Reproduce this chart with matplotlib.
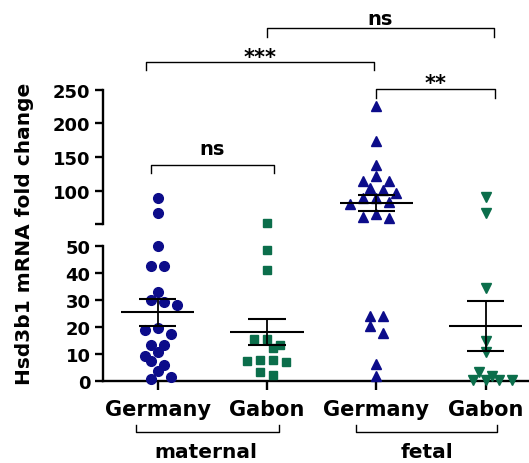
import numpy as np
import matplotlib.pyplot as plt
from matplotlib.transforms import blended_transform_factory

plt.rcParams['font.family'] = 'DejaVu Sans'
plt.rcParams['font.weight'] = 'bold'

# fold change per sample, one list per group
mat_germany = [89, 67, 49.8, 42.6, 42.6, 32.7, 30.0, 29.0, 28.0, 19.4, 18.9, 17.4,
               13.2, 13.2, 10.5, 9.3, 7.4, 5.8, 3.6, 1.2, 0.6]
mat_gabon = [52, 48.5, 41.1, 15.4, 15.4, 13.2, 12.0, 7.8, 7.8, 7.4, 7.0, 3.1, 2.1]
fet_germany = [225.4, 174.5, 137.4, 121.7, 115.0, 113.7, 104.4, 101.4, 97.0, 89.0, 89.0,
               83.2, 80.7, 64.8, 60.9, 60.0, 24.1, 23.9, 20.1, 17.6, 6.2, 1.9]
fet_gabon = [90.6, 66.9, 34.2, 14.8, 10.5, 3.1, 1.6, 0.4, 0.4, 0.4, 0.4]

groups = [mat_germany, mat_gabon, fet_germany, fet_gabon]
tick_names = ['Germany', 'Gabon', 'Germany', 'Gabon']
tissue_names = ['maternal', 'fetal']

blue = '#0c0c8a'
green = '#0b6e4b'
colors = [blue, green, blue, green]
markers = ['o', 's', '^', 'v']
msizes = [7.0, 6.2, 7.4, 7.4]

brk = 50  # axis break value

W, H = 529, 464
fig = plt.figure(figsize=(W / 100, H / 100), dpi=100)

def px_box(x0, y_top, x1, y_bot):
    return [x0 / W, 1 - y_bot / H, (x1 - x0) / W, (y_bot - y_top) / H]

ax_lo = fig.add_axes(px_box(103, 246.7, 528.5, 381.7))
ax_hi = fig.add_axes(px_box(103, 90.7, 528.5, 225.3))

xmax = 0.5 + (528.5 - 103) / 109.3
for ax in (ax_lo, ax_hi):
    ax.set_xlim(0.5, xmax)
    ax.patch.set_visible(False)
    for s in ['top', 'right']:
        ax.spines[s].set_visible(False)
    ax.spines['left'].set_linewidth(1.7)
    ax.tick_params(axis='y', length=6, width=1.7, pad=3, labelsize=13)

ax_lo.set_ylim(0, 50)
ax_lo.set_yticks([0, 10, 20, 30, 40, 50])
ax_lo.spines['bottom'].set_linewidth(1.7)
ax_lo.set_xticks([1, 2, 3, 4])
ax_lo.set_xticklabels(tick_names)
ax_lo.tick_params(axis='x', length=6.5, width=1.7, pad=7, labelsize=15)

ax_hi.set_ylim(brk, 250)
ax_hi.set_yticks([50, 100, 150, 200, 250])
ax_hi.set_yticklabels(['', '100', '150', '200', '250'])
ax_hi.spines['bottom'].set_visible(False)
ax_hi.set_xticks([])


def pix_y(v):
    ax = ax_hi if v > brk else ax_lo
    return ax.transData.transform((1, v))[1]


def swarm(center, values, thresh=7.0, diam=9.5, step=6.5):
    # group points into rows by screen height, spread each row sideways
    ys = [pix_y(v) for v in values]
    order = sorted(range(len(values)), key=lambda i: -ys[i])
    unit = ax_lo.transData.transform((1, 0))[0] - ax_lo.transData.transform((0, 0))[0]
    rows, cur = [], [order[0]]
    for i in order[1:]:
        if ys[cur[0]] - ys[i] < thresh:
            cur.append(i)
        else:
            rows.append(cur)
            cur = [i]
    rows.append(cur)
    xs = np.full(len(values), float(center))
    prev_slots, prev_y, flip = None, None, 1
    for row in rows:
        n = len(row)
        slots = [2 * k - (n - 1) for k in range(n)]
        if prev_slots is not None and prev_y - ys[row[0]] < diam and set(slots) & set(prev_slots):
            slots = [s + flip for s in slots]
            flip = -flip
        slots = sorted(slots, key=lambda s: (abs(s), s))
        for i, s in zip(row, slots):
            xs[i] = center + s * step / unit
        prev_slots, prev_y = slots, ys[row[-1]]
    return xs


for k, vals in enumerate(groups):
    pos = k + 1
    vals = np.array(vals)
    xs = swarm(pos, vals)
    hi = vals > brk
    for ax, m in ((ax_hi, hi), (ax_lo, ~hi)):
        ax.plot(xs[m], vals[m], ls='none', marker=markers[k], ms=msizes[k],
                mfc=colors[k], mec=colors[k], clip_on=False, zorder=3)
    mean = vals.mean()
    sem = vals.std(ddof=1) / np.sqrt(len(vals))
    for ax in (ax_lo, ax_hi):
        ax.hlines(mean, pos - 0.336, pos + 0.336, color='black', lw=1.5, zorder=4)
        ax.vlines(pos, mean - sem, mean + sem, color='black', lw=1.3, zorder=4)
        ax.hlines([mean - sem, mean + sem], pos - 0.17, pos + 0.17, color='black', lw=1.5, zorder=4)

# significance brackets (upper axis data units)
brackets = [
    (0.936, 2.067, 138.4, 12, 154.7, 'ns', 14),
    (0.897, 2.976, 290.6, 12, 290.0, '***', 15),
    (1.997, 4.074, 341.0, 12, 347.3, 'ns', 14),
    (2.994, 4.090, 250.3, 12, 251.0, '**', 15),
]
for x1, x2, y, drop, ty, label, fs in brackets:
    ax_hi.plot([x1, x1, x2, x2], [y - drop, y, y, y - drop], color='black', lw=1.0,
               clip_on=False)
    ax_hi.text((x1 + x2) / 2, ty, label, ha='center', va='baseline', fontsize=fs,
               fontweight='bold')

# tissue brackets under the country labels
tr = blended_transform_factory(ax_lo.transData, fig.transFigure)
spans = [(0.802, 2.107, 1.437), (2.817, 4.107, 3.466)]
for (x1, x2, xc), name in zip(spans, tissue_names):
    ax_lo.plot([x1, x1, x2, x2], [0.0825, 0.0662, 0.0662, 0.0825], color='black', lw=1.0,
               transform=tr, clip_on=False)
    ax_lo.text(xc, 0.014, name, transform=tr, ha='center', va='baseline', fontsize=14.5,
               fontweight='bold')

fig.text(25 / W, 1 - 234 / H, 'Hsd3b1 mRNA fold change', rotation=90, ha='center',
         va='center', fontsize=14.5, fontweight='bold')

fig.savefig('out.png', dpi=100)
